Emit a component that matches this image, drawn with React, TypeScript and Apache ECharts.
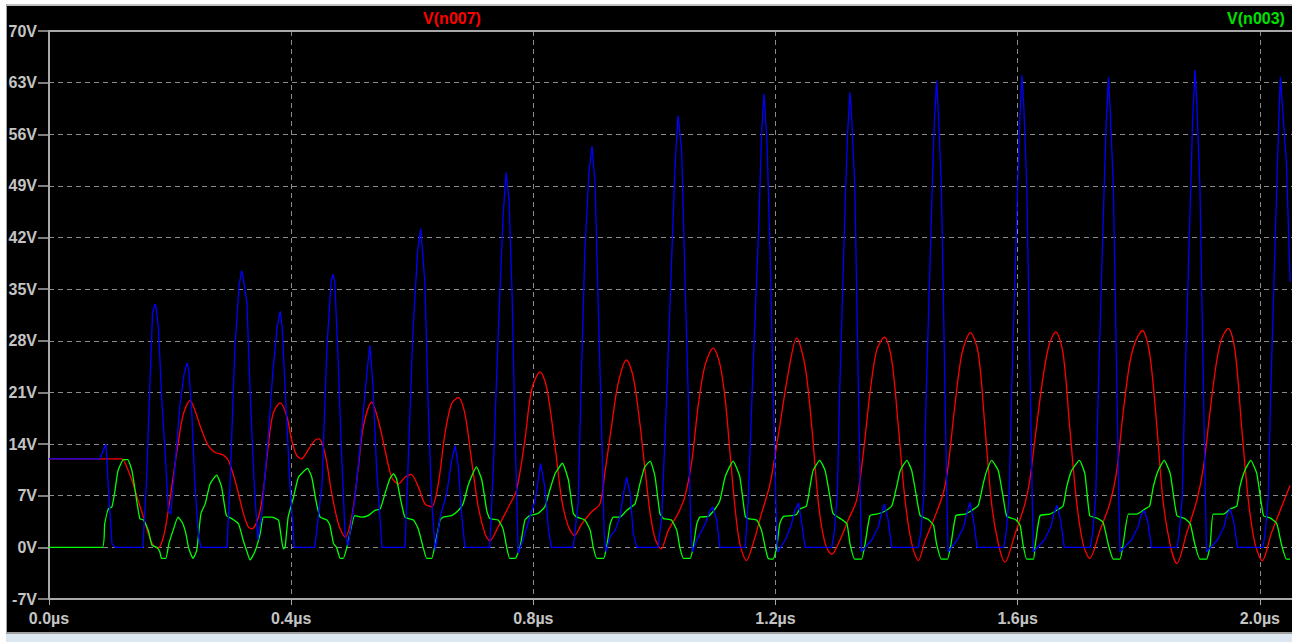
import React, { useEffect, useRef } from "react";
import * as echarts from "echarts";

// time in ns, value in V
const seriesNames = ["V(n007)", "V(n003)", "V(n005)"];
const lastLabelledTick = 2000;

const redTrace: number[][] = [
  [0,12],[84,12],[120,12],[128,11],[139,8.6],[147,6.4],[156,4.1],[164,1.9],[172,0.3],[180,-0.1],[189,1.4],[197,5],[205,9.5],[214,14.5],[222,18.1],[233,19.9],[241,18.6],[252,15.9],[263,13.8],[274,12.9],[288,12.5],[296,11.8],[304,10],[313,7.3],[321,4.6],[329,2.8],[335,2.5],[346,4.1],[354,7.7],[362,13.6],[370,18.1],[382,19.6],[393,17.7],[401,14.5],[409,12.5],[417,12],[428,13.2],[439,14.5],[446,14.7],[456,12.7],[467,7.3],[478,3.2],[489,1.4],[500,4.1],[511,10.9],[519,16.3],[533,19.7],[544,17.2],[555,13.2],[566,9.5],[577,8.6],[588,9.5],[598,9.9],[610,8.2],[621,5.9],[632,5.5],[643,8.6],[654,15.4],[665,19.5],[676,20.3],[687,18.1],[698,11.8],[709,5.5],[720,1.9],[728,0.9],[742,2.8],[759,5.5],[772,7.7],[786,14.5],[797,21.3],[811,23.8],[822,21.7],[836,13.6],[847,6.4],[858,2.8],[868,1.6],[880,3.2],[896,4.8],[910,5.9],[918,10],[929,16.3],[940,22.2],[954,25.4],[965,23.1],[976,16.8],[984,10.9],[993,4.6],[1001,1.2],[1011,-0.2],[1023,2.3],[1039,4.6],[1050,6.8],[1062,11.8],[1072,19],[1083,24.5],[1097,27],[1108,24.9],[1117,20],[1125,12.7],[1133,5.5],[1141,0.5],[1152,-1.8],[1163,0.5],[1177,4.6],[1191,8.6],[1205,15.4],[1221,23.6],[1235,28.4],[1249,24.5],[1260,16.3],[1271,5.9],[1282,0.5],[1293,-0.95],[1306,0.9],[1320,3.7],[1334,6.4],[1345,12.7],[1356,20.9],[1367,26.7],[1380,28.5],[1392,25.4],[1403,16.3],[1414,6.4],[1425,0.5],[1436,-1.8],[1447,0.9],[1463,4.1],[1477,7.3],[1485,10.9],[1496,19],[1508,26.3],[1522,29.1],[1535,26.3],[1546,16.3],[1557,5.9],[1568,0.5],[1579,-2],[1596,1.9],[1612,5.9],[1620,9.1],[1631,16.3],[1642,23.1],[1652,27.5],[1663,29.2],[1675,26.3],[1686,16.3],[1697,6.4],[1708,0.5],[1719,-1.5],[1736,2.3],[1752,5.9],[1763,10],[1774,18.1],[1785,24.9],[1795,28],[1806,29.4],[1818,26.3],[1830,16.3],[1840,6.4],[1852,0.3],[1863,-2.2],[1879,1.9],[1896,6.4],[1907,10.9],[1918,18.6],[1929,25.4],[1938,28.5],[1948,29.7],[1959,26.7],[1970,16.3],[1981,6.4],[1992,0.5],[2004,-1.8],[2019,1.9],[2036,5.5],[2050,8.4]
];

const greenTrace: number[][] = [
  [0,0],[88,0],[92,3.2],[98,5.2],[104,5.5],[109,7.7],[114,10.4],[123,11.9],[130,11.9],[137,10.4],[143,7.3],[150,3.9],[156,3.7],[164,2.3],[170,0.3],[178,0],[183,-0.6],[186,-1.5],[193,-1.5],[198,0.5],[205,2.3],[213,4.1],[220,3.4],[226,1.9],[231,-0.2],[238,-1.5],[244,-0.4],[251,4.6],[258,5.9],[266,8.6],[277,9.8],[285,8.2],[293,4.3],[302,3.9],[313,3.2],[321,0.9],[327,-0.6],[332,-1.7],[340,-0.6],[349,1.9],[354,4.1],[368,4.1],[379,3.7],[382,2.3],[387,-0.2],[390,0],[395,4.1],[404,6.8],[412,9.5],[427,10.7],[434,9.5],[442,5.9],[448,4.1],[459,3.7],[464,3],[470,0.5],[475,0],[481,-1.5],[486,-1.5],[492,0],[497,1.9],[505,4.3],[516,4.1],[527,4.3],[538,5],[547,5.2],[555,7.3],[563,9.3],[569,10],[574,9.3],[581,6.4],[588,4.1],[602,3.7],[610,2.5],[618,0],[624,-1.5],[632,-1.5],[638,0.5],[646,3.7],[651,4.1],[665,4.3],[676,5],[684,5.9],[693,8.6],[706,10.9],[715,9.1],[723,5],[728,3.9],[742,3.7],[750,2.5],[756,0],[761,-1.5],[770,-1.5],[778,0],[786,3.7],[794,4.3],[808,4.6],[819,5.5],[827,7.7],[836,10],[848,11.4],[858,9.1],[866,4.6],[872,4.1],[885,3.7],[894,2.3],[899,0],[905,-1.5],[916,-1.5],[921,0],[927,3.2],[932,4.1],[943,4.1],[954,5],[968,5.9],[976,8.6],[984,10.9],[993,11.7],[1001,9.6],[1009,4.6],[1015,3.9],[1028,3.7],[1037,2.3],[1042,0],[1048,-1.5],[1059,-1.5],[1064,0],[1070,3.2],[1075,4.1],[1089,4.2],[1100,5.2],[1108,6.3],[1117,9.6],[1130,11.7],[1141,9.6],[1150,4.2],[1155,3.9],[1169,3.7],[1177,2.3],[1183,0],[1188,-1.5],[1196,-1.6],[1202,0],[1207,3.2],[1213,4.2],[1227,4.3],[1235,4.5],[1240,5.2],[1251,5.6],[1257,8.2],[1262,10.4],[1273,11.8],[1282,10.4],[1290,6.8],[1295,4.6],[1309,3.8],[1318,3.2],[1323,0.5],[1331,-1.6],[1342,-1.6],[1348,0.5],[1356,4.3],[1367,4.5],[1378,4.8],[1392,5.6],[1400,8.2],[1406,10.4],[1417,11.8],[1425,10.4],[1433,6.8],[1439,4.3],[1452,3.8],[1461,3],[1466,0.5],[1474,-1.6],[1484,-1.6],[1490,0.5],[1498,4.3],[1513,4.5],[1524,5],[1535,5.7],[1543,8.6],[1549,10.4],[1557,11.8],[1568,10.4],[1576,6.8],[1582,4.2],[1596,3.8],[1604,3],[1609,0.3],[1615,-1.6],[1626,-1.6],[1629,0.3],[1637,4.3],[1653,4.5],[1664,5],[1675,5.6],[1681,8.2],[1689,10.4],[1702,11.8],[1711,10],[1719,4.3],[1730,4],[1741,3.4],[1750,0.3],[1758,-1.6],[1769,-1.6],[1774,0.3],[1783,4.5],[1797,4.5],[1810,5.2],[1818,5.6],[1824,8.2],[1832,10.4],[1842,11.8],[1852,10],[1863,4.3],[1876,3.9],[1885,3.2],[1893,0.3],[1901,-1.6],[1912,-1.6],[1918,0.3],[1923,4.5],[1940,4.5],[1951,5.2],[1962,5.6],[1967,8.2],[1975,10.4],[1985,11.8],[1995,10],[2006,4.3],[2017,4],[2028,3.2],[2036,0.3],[2044,-1.6],[2050,-1.6]
];

const blueTrace: number[][] = [
  [0,12],[84,12],[90,13.2],[94,14],[98,8.2],[104,0.5],[109,0],[155,0],[161,9],[167,22.7],[171,31.7],[175,33],[177,32.5],[181,29.4],[186,20.4],[192,12.7],[197,5],[201,4.5],[208,11],[216,19],[223,23.5],[228,25],[231,24],[236,18],[241,8.5],[247,1.5],[251,0],[294,0],[299,8.5],[307,27],[314,35.5],[318,37.5],[320,37],[327,33],[332,21.5],[339,8.5],[345,1],[352,5],[362,15],[370,24],[377,30],[382,32],[385,30],[390,21.5],[398,8.5],[405,0],[439,0],[451,8.5],[459,27],[466,36],[469,37],[472,36],[477,26.6],[483,13.2],[489,1.9],[494,0.2],[505,6.4],[516,15.5],[525,23.6],[530,27.4],[535,22],[541,10.9],[550,0],[588,0],[593,11],[601,29],[609,40.3],[614,43.2],[621,35.8],[626,20],[632,6.4],[638,-0.4],[646,4.1],[657,7.3],[665,11.8],[671,13.8],[676,10.9],[682,4.1],[687,0],[728,0],[734,11],[742,29],[750,44.8],[755,50.8],[760,47],[765,34],[770,15],[775,-0.8],[783,1],[794,4.1],[803,6.3],[812,11.4],[819,8.2],[825,2.3],[830,0],[866,0],[874,6],[879,22],[885,40],[892,51],[897,54.4],[902,49.3],[907,33.5],[913,15.4],[917,1.9],[920,-0.6],[927,1.5],[935,2.3],[943,4.1],[949,7.3],[954,9.5],[960,7.3],[965,1.9],[971,0],[1006,0],[1012,4.1],[1020,20],[1028,38],[1034,51.6],[1039,58.5],[1045,53.9],[1050,38],[1056,20],[1060,1.9],[1063,-0.6],[1070,1],[1084,3.2],[1092,5],[1096,5.5],[1103,3.7],[1108,0],[1150,0],[1155,6.4],[1163,24.5],[1172,42.6],[1177,56],[1181,61.5],[1186,55],[1191,40],[1197,18],[1202,1.5],[1204,-0.6],[1216,1],[1226,3],[1232,5],[1238,6],[1242,4],[1249,0],
  [1293,0],[1297,2],[1302,7],[1306,21],[1311,35],[1316,49],[1319,56],[1323,61.7],[1326,58],[1331,49],[1334,35],[1337,21],[1340,7],[1342,-0.6],[1359,1],[1370,2.8],[1375,4.6],[1380,5.9],[1386,3.7],[1392,0],
  [1436,0],[1440,2],[1445,7],[1449,21],[1454,35],[1459,49],[1462,57],[1466,63.3],[1469,59],[1474,49],[1477,35],[1480,21],[1483,7],[1485,-0.6],[1500,1],[1511,2.8],[1516,4.6],[1521,6.1],[1527,3.7],[1533,0],
  [1577,0],[1581,2],[1586,7],[1590,21],[1595,35],[1600,49],[1603,57],[1607,64],[1610,60],[1615,49],[1618,35],[1621,21],[1624,7],[1626,-0.6],[1644,1],[1655,2.8],[1660,4.6],[1665,5.7],[1671,3.7],[1677,0],
  [1720,0],[1724,2],[1729,7],[1733,21],[1738,35],[1743,49],[1746,57],[1750,63.7],[1753,59],[1758,49],[1761,35],[1764,21],[1767,7],[1769,-0.6],[1788,1],[1799,2.8],[1804,4.4],[1809,5],[1815,3.5],[1821,0],
  [1863,0],[1867,2],[1872,7],[1876,21],[1881,35],[1886,49],[1889,58],[1893,64.7],[1896,60],[1901,49],[1904,35],[1907,21],[1910,7],[1912,-0.6],[1930,1],[1941,2.8],[1946,4.5],[1951,5.2],[1957,3.5],[1963,0],
  [2005,0],[2009,2],[2014,7],[2018,21],[2023,35],[2028,49],[2031,57],[2034,63.8],[2038,59],[2044,52],[2050,36]
];

const FONT = "'Liberation Sans', Arial, sans-serif";
const AXIS_GRAY = "#a8a8a8";
const LABEL_GRAY = "#c4c4c4";

export default function App() {
  const ref = useRef<HTMLDivElement>(null);

  useEffect(() => {
    if (!ref.current) return;
    const chart = echarts.init(ref.current, null, { renderer: "svg" });
    const gridLine = { show: true, lineStyle: { color: "#8a8a8a", type: [5, 4], width: 1 } };
    chart.setOption({
      animation: false,
      backgroundColor: "#000000",
      grid: { left: 49, top: 31, width: 1453, height: 568, outerBoundsMode: "none", containLabel: false },
      xAxis: [
        {
          type: "value",
          min: 0,
          max: 2400,
          interval: 400,
          position: "bottom",
          axisLine: { show: true, onZero: false, lineStyle: { color: AXIS_GRAY, width: 2 } },
          axisTick: { show: true, length: 6, lineStyle: { color: AXIS_GRAY, width: 1 } },
          axisLabel: {
            color: LABEL_GRAY,
            fontSize: 16,
            fontWeight: "bold",
            fontFamily: FONT,
            margin: 11,
            showMaxLabel: false,
            formatter: (v: number) => (v > lastLabelledTick ? "" : (v / 1000).toFixed(1) + "µs"),
          },
          splitLine: gridLine,
        },
        {
          type: "value",
          min: 0,
          max: 2400,
          position: "top",
          axisLine: { show: true, onZero: false, lineStyle: { color: AXIS_GRAY, width: 2 } },
          axisTick: { show: false },
          axisLabel: { show: false },
          splitLine: { show: false },
        },
      ],
      yAxis: {
        type: "value",
        min: -7,
        max: 70,
        interval: 7,
        axisLine: { show: true, onZero: false, lineStyle: { color: AXIS_GRAY, width: 2 } },
        axisTick: { show: true, length: 11, lineStyle: { color: AXIS_GRAY, width: 1.5 } },
        axisLabel: {
          color: LABEL_GRAY,
          fontSize: 16,
          fontWeight: "bold",
          fontFamily: FONT,
          margin: 12,
          formatter: (v: number) => v + "V",
        },
        splitLine: gridLine,
      },
      graphic: [
        { type: "rect", shape: { x: 0, y: 0, width: 1292, height: 4 }, style: { fill: "#ffffff" }, silent: true },
        { type: "rect", shape: { x: 6, y: 4, width: 1286, height: 2 }, style: { fill: "#c0c0c0" }, silent: true },
        { type: "rect", shape: { x: 0, y: 0, width: 6, height: 642 }, style: { fill: "#ffffff" }, silent: true },
        { type: "rect", shape: { x: 6, y: 4, width: 1, height: 630 }, style: { fill: "#a0a0a0" }, silent: true },
        { type: "rect", shape: { x: 6, y: 632, width: 1286, height: 2 }, style: { fill: "#a0a0a0" }, silent: true },
        { type: "rect", shape: { x: 6, y: 634, width: 1286, height: 8 }, style: { fill: "#dde7f2" }, silent: true },
        {
          type: "text",
          x: 452,
          y: 18,
          style: { text: seriesNames[0], fill: "#ff0000", font: "bold 16px " + FONT, textAlign: "center", textVerticalAlign: "middle" },
        },
        {
          type: "text",
          x: 1256,
          y: 18,
          style: { text: seriesNames[1], fill: "#00e000", font: "bold 16px " + FONT, textAlign: "center", textVerticalAlign: "middle" },
        },
      ],
      series: [
        {
          name: seriesNames[0],
          type: "line",
          data: redTrace,
          showSymbol: false,
          symbol: "none",
          smooth: 0.3,
          lineStyle: { color: "#ff0000", width: 1.3 },
          z: 2,
        },
        {
          name: seriesNames[1],
          type: "line",
          data: greenTrace,
          showSymbol: false,
          symbol: "none",
          smooth: 0.15,
          lineStyle: { color: "#00ff00", width: 1.3 },
          z: 3,
        },
        {
          name: seriesNames[2],
          type: "line",
          data: blueTrace,
          showSymbol: false,
          symbol: "none",
          lineStyle: { color: "#0000ff", width: 1.3 },
          z: 4,
        },
      ],
    });
    return () => chart.dispose();
  }, []);

  return (
    <div
      ref={ref}
      style={{ position: "fixed", left: 0, top: 0, width: 1292, height: 642, background: "#ffffff" }}
    />
  );
}
